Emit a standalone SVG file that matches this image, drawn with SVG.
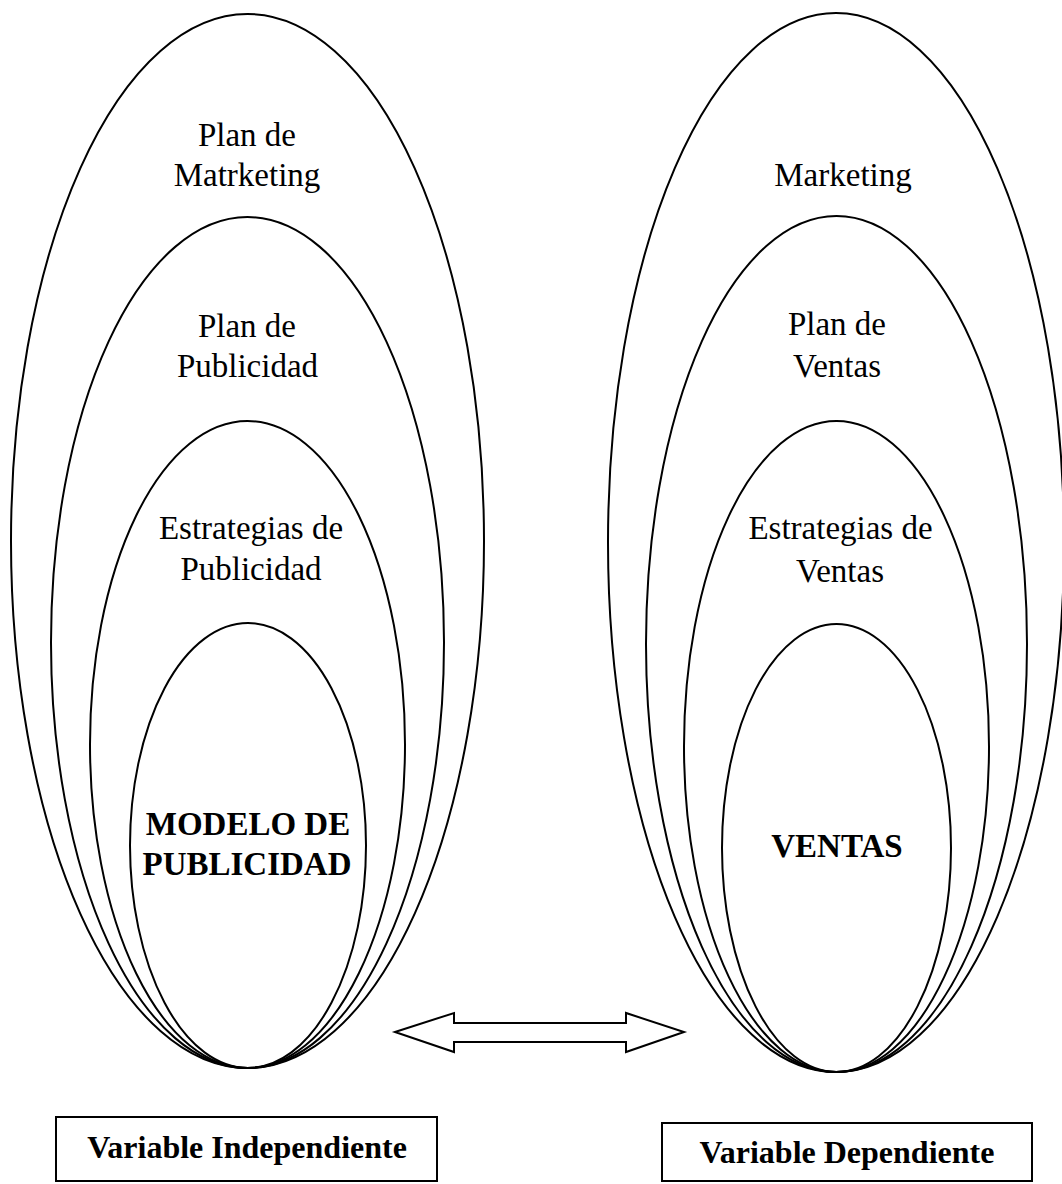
<svg xmlns="http://www.w3.org/2000/svg" width="1062" height="1184" viewBox="0 0 1062 1184">
<style>
.e{fill:none;stroke:#000;stroke-width:2}
.t{font-family:"Liberation Serif","Times New Roman",serif;font-size:33px;fill:#000;text-anchor:middle}
.b{font-weight:bold}
.bx{fill:#fff;stroke:#000;stroke-width:2}
.bt{font-family:"Liberation Serif","Times New Roman",serif;font-size:32px;font-weight:bold;fill:#000;text-anchor:middle}
</style>
<rect width="1062" height="1184" fill="#fff"/>
<g id="left-marketing">
<ellipse class="e" cx="247.5" cy="541" rx="236.5" ry="527"/>
<text class="t" x="247" y="146">Plan de</text>
<text class="t" x="247" y="186">Matrketing</text>
</g>
<g id="left-publicidad">
<ellipse class="e" cx="247.5" cy="642.5" rx="196.5" ry="425.5"/>
<text class="t" x="247" y="337">Plan de</text>
<text class="t" x="247.5" y="377">Publicidad</text>
</g>
<g id="left-estrategias">
<ellipse class="e" cx="247.5" cy="744.5" rx="157.5" ry="323.5"/>
<text class="t" x="251" y="539">Estrategias de</text>
<text class="t" x="251" y="580">Publicidad</text>
</g>
<g id="left-modelo">
<ellipse class="e" cx="248" cy="845.5" rx="118" ry="222.5"/>
<text class="t b" x="248" y="835">MODELO DE</text>
<text class="t b" x="247" y="875">PUBLICIDAD</text>
</g>
<g id="right-marketing">
<ellipse class="e" cx="836" cy="542.5" rx="228" ry="529.5"/>
<text class="t" x="843" y="186">Marketing</text>
</g>
<g id="right-plan">
<ellipse class="e" cx="836.5" cy="644" rx="190.5" ry="428"/>
<text class="t" x="837" y="335">Plan de</text>
<text class="t" x="837" y="377">Ventas</text>
</g>
<g id="right-estrategias">
<ellipse class="e" cx="836.5" cy="746.5" rx="152.5" ry="325.5"/>
<text class="t" x="840.5" y="539">Estrategias de</text>
<text class="t" x="840" y="582">Ventas</text>
</g>
<g id="right-ventas">
<ellipse class="e" cx="836.5" cy="848" rx="114.5" ry="224"/>
<text class="t b" x="837" y="857">VENTAS</text>
</g>
<g id="connectors">
<polygon fill="#fff" stroke="#000" stroke-width="2" points="395,1032 454,1013 454,1023 626,1023 626,1013 684,1032 626,1052 626,1042 454,1042 454,1052"/>
</g>
<g id="box-independiente">
<rect class="bx" x="56" y="1117" width="381" height="64"/>
<text class="bt" x="247" y="1158">Variable Independiente</text>
</g>
<g id="box-dependiente">
<rect class="bx" x="662" y="1123" width="370" height="58"/>
<text class="bt" x="847" y="1163">Variable Dependiente</text>
</g>
</svg>
